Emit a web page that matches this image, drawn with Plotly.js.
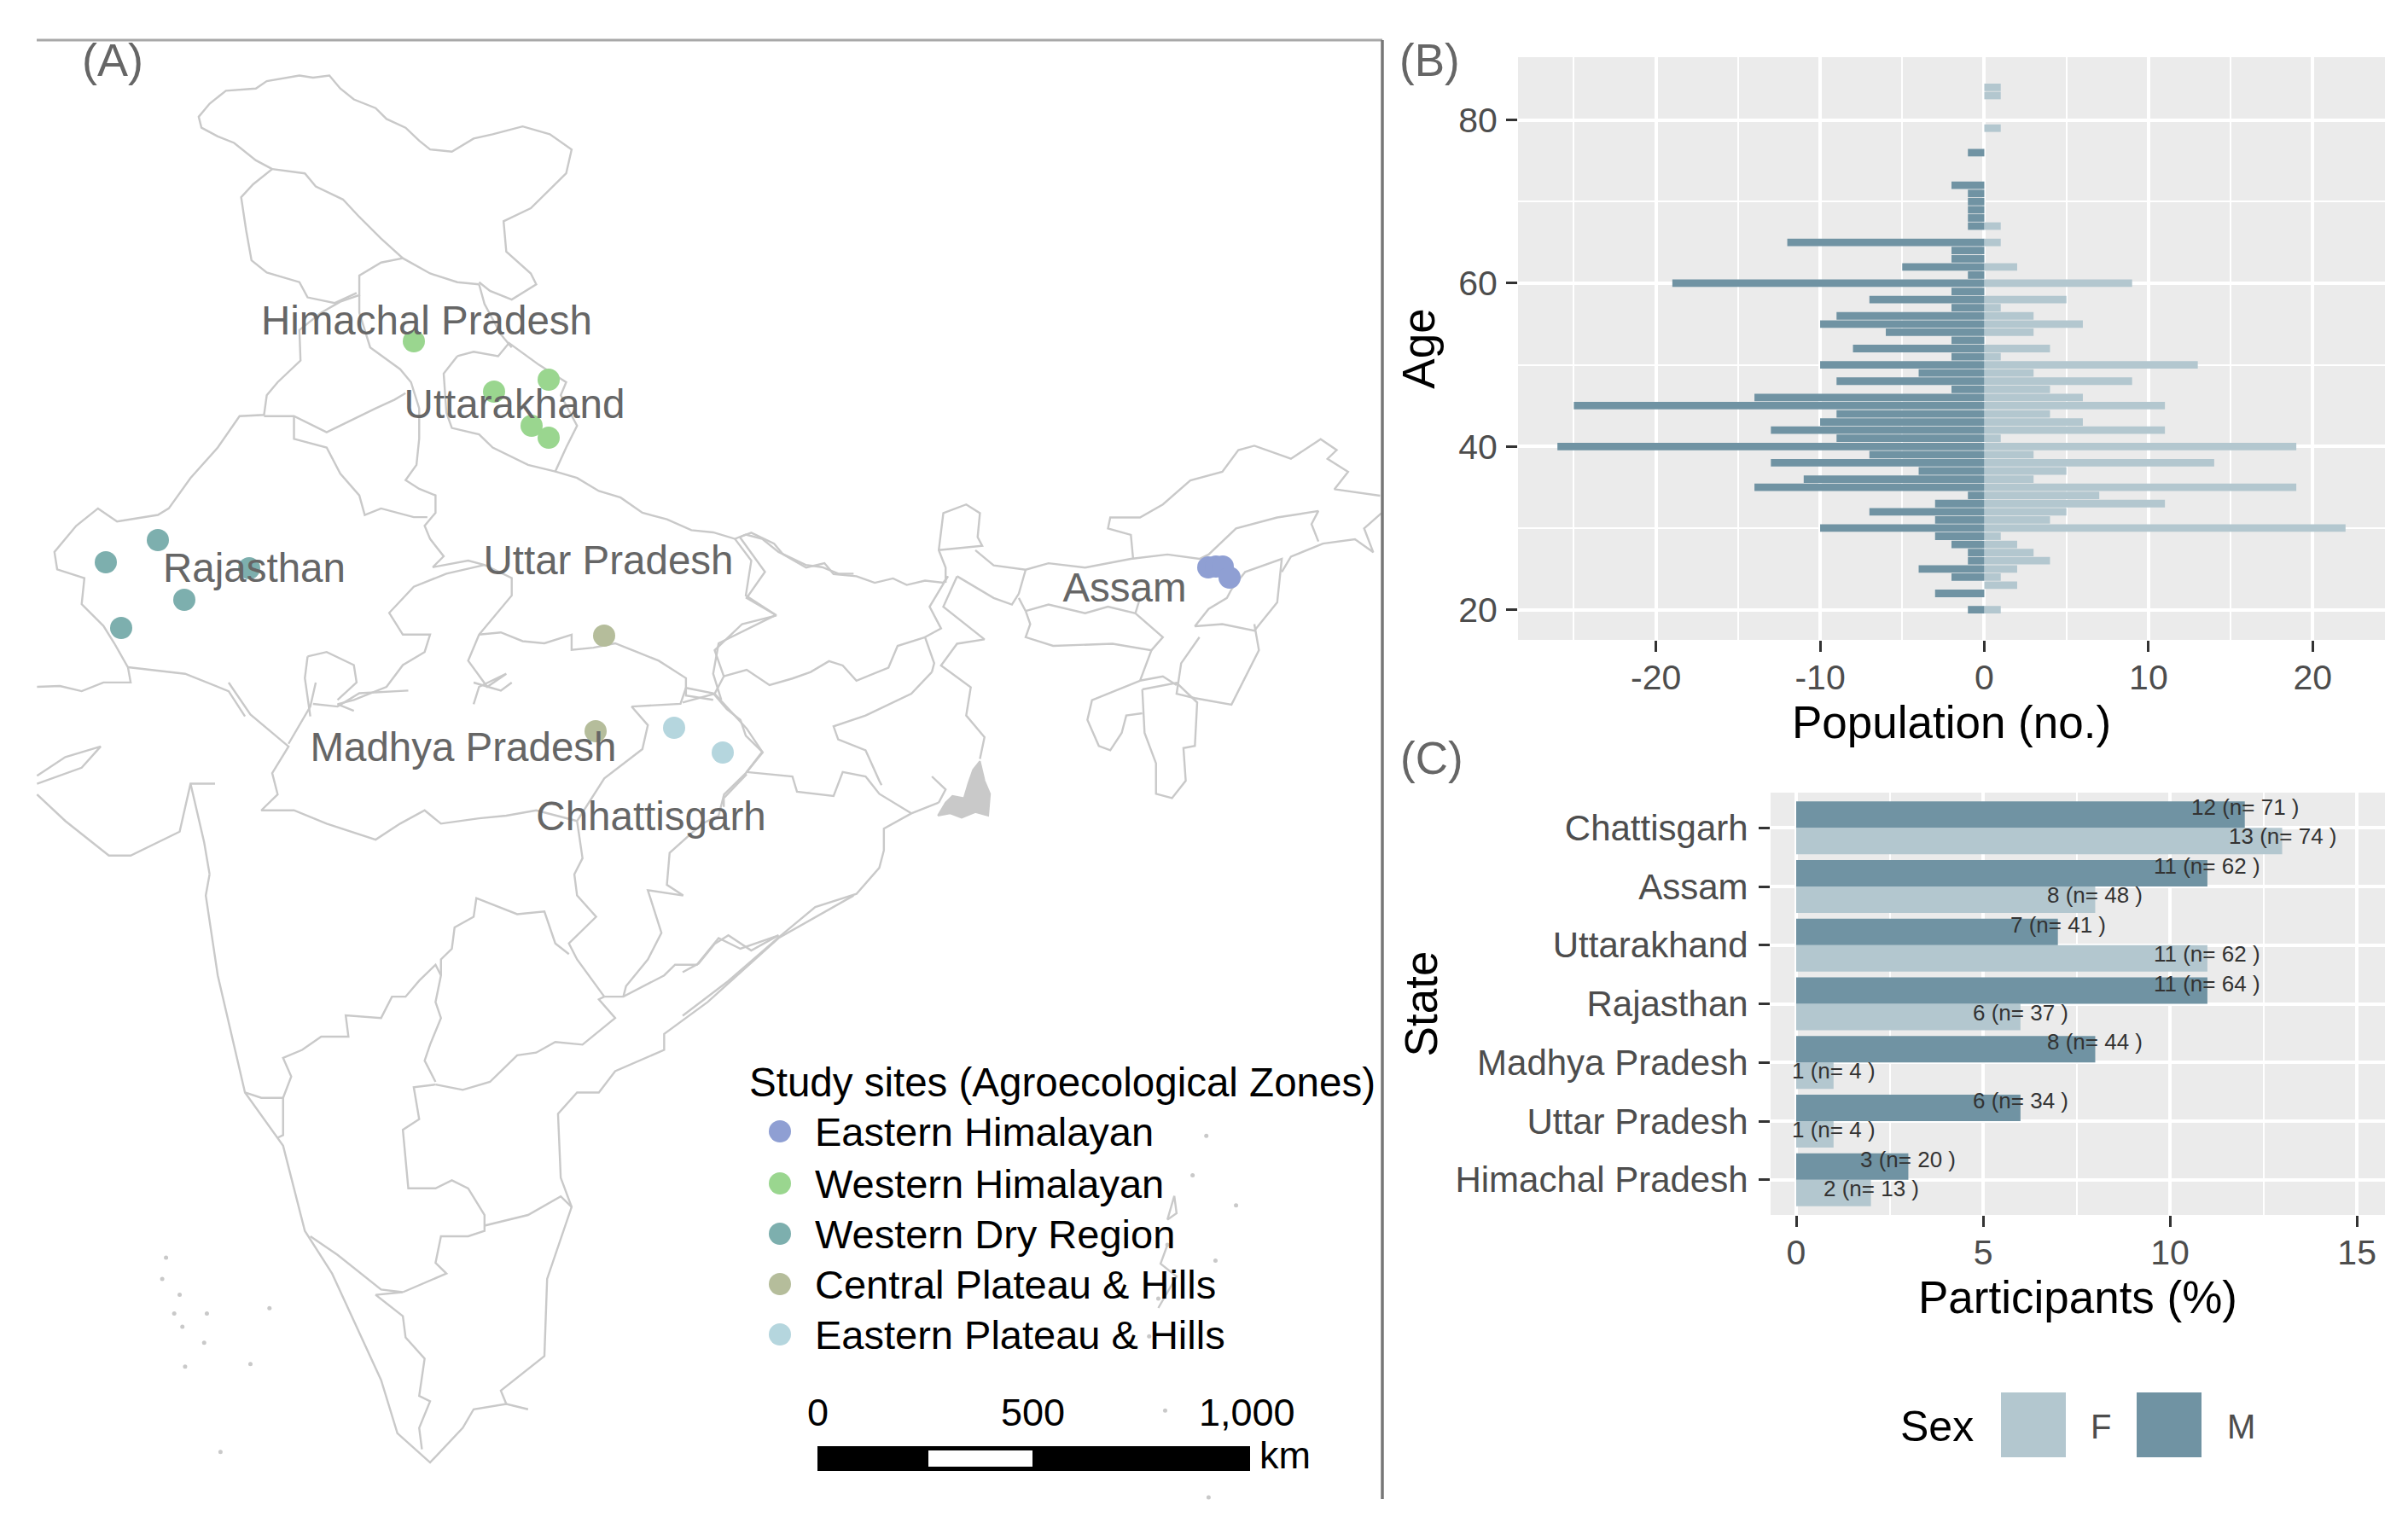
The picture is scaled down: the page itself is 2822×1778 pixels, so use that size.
<!DOCTYPE html>
<html>
<head>
<meta charset="utf-8">
<script src="https://cdn.plot.ly/plotly-3.0.1.min.js"></script>
<style>body{margin:0;background:#fff}</style>
</head>
<body>
<div id="myChart" style="width:2822px;height:1778px"></div>
<script>
// (B) age pyramid
const ages = [84,83,79,76,72,71,70,69,68,67,65,64,63,62,61,60,59,58,57,56,55,54,53,52,51,50,49,48,47,46,45,44,43,42,41,40,39,38,37,36,35,34,33,32,31,30,29,28,27,26,25,24,23,22,20];
const males = [0,0,0,1,2,1,1,1,1,1,12,2,2,5,1,19,2,7,2,9,10,6,2,8,2,10,4,9,2,14,25,9,10,13,9,26,7,13,4,11,14,1,3,7,3,10,3,2,1,1,4,2,0,3,1];
const females = [1,1,1,0,0,0,0,0,0,1,1,0,0,2,0,9,0,5,1,3,6,3,0,4,1,13,3,9,4,6,11,4,6,11,1,19,3,14,5,3,19,7,11,5,4,22,1,2,3,4,2,1,2,0,1];
const popTicks = [-20,-10,0,10,20];
const popTickLabels = ["-20","-10","0","10","20"];
const popMinorTicks = [-25,-15,-5,5,15];

// (C) participants by state, bottom to top
const states = ["Himachal Pradesh","Uttar Pradesh","Madhya Pradesh","Rajasthan","Uttarakhand","Assam","Chattisgarh"];
const pctM = [3,6,8,11,7,11,12];
const pctF = [2,1,1,6,11,8,13];
const countM = [20,34,44,64,41,62,71];
const countF = [13,4,4,37,62,48,74];

// (A) study sites, in reference pixels
const zones = ["Eastern Himalayan","Western Himalayan","Western Dry Region","Central Plateau & Hills","Eastern Plateau & Hills"];
const zoneColors = ["#8f9fd3","#9ad68f","#7dafae","#b5bd9b","#b5d6de"];
const siteX = [[1416,1425,1433,1441],[485,579,643,623,643],[185,124,292,216,142],[708,698],[790,847]];
const siteY = [[665,664,664,677],[400,459,445,499,513],[633,659,666,703,736],[745,857],[853,882]];
const legendRowY = [1326,1387,1446,1505,1564];
const stateLabels = ["Himachal Pradesh","Uttarakhand","Rajasthan","Uttar Pradesh","Assam","Madhya Pradesh","Chhattisgarh"];
const stateLabelX = [500,603,298,713,1318,543,763];
const stateLabelY = [380,478,670,661,693,880,961];

const north = (pts) => pts.map(([x, y]) => [x * 0.638, 40 + y * 0.51]);
const east = (pts) => pts.map(([x, y]) => [800 + x * 0.536, 400 + y * 0.51]);
const south = (pts) => pts.map(([x, y]) => [x * 0.638, 800 + y * 0.624]);
const sea = (pts) => pts.map(([x, y]) => [800 + x * 0.536, 1200 + y * 0.37]);

const northLines = [
  [[500,310],[470,290],[430,250],[400,235],[370,215],[365,190],[385,160],[415,130],[470,125],[490,108],[550,95],[575,100],[605,95],[625,125],[650,150],[690,170],[710,195],[745,215],[770,245],[790,265],[830,270],[870,240],[905,230],[960,212],[1010,230],[1050,265],[1040,320],[1000,370],[975,400],[925,430],[930,500],[975,550],[985,575],[940,610],[900,590],[880,570]],
  [[500,310],[560,320],[580,350],[630,380],[660,420],[700,470],[740,515],[790,550],[840,570],[880,575]],
  [[500,310],[465,345],[443,375],[452,450],[462,520],[490,548],[550,570],[565,605],[615,618],[655,595]],
  [[740,515],[700,525],[660,555],[660,600],[625,615]],
  [[625,615],[590,640],[550,680],[552,750],[510,800],[490,830],[485,875],[440,878],[400,950],[350,1020],[310,1090],[290,1105],[215,1120],[180,1090],[140,1130],[100,1190],[105,1230],[155,1250],[150,1310],[190,1360],[210,1400],[235,1455],[240,1490],[190,1490],[150,1510],[110,1498],[68,1500]],
  [[485,878],[540,878],[600,915],[640,890],[690,860],[725,840],[745,825]],
  [[660,600],[660,640],[680,720],[735,770],[755,800],[770,860],[770,930],[765,990],[745,1025],[770,1045],[800,1060],[800,1100],[780,1130],[790,1160],[815,1200],[795,1225],[860,1210],[890,1220]],
  [[540,878],[540,930],[600,950],[625,1010],[660,1060],[670,1105],[700,1090],[760,1110],[785,1110]],
  [[880,575],[890,620],[920,690],[940,720]],
  [[840,740],[870,730],[915,740],[935,710],[990,760],[1040,800],[1030,830],[1060,900],[1040,950],[1020,1005],[970,990],[905,950],[880,920],[830,905],[820,870],[815,780],[840,740]],
  [[1020,1005],[1060,1020],[1100,1050],[1140,1065],[1180,1100],[1225,1115],[1270,1140],[1310,1145],[1350,1160],[1370,1150],[1400,1160],[1430,1190],[1480,1220],[1510,1225],[1540,1240],[1568,1240]],
  [[1350,1160],[1380,1210],[1370,1290],[1425,1335],[1320,1400],[1310,1470],[1325,1530]],
  [[890,1220],[820,1240],[760,1270],[715,1330],[740,1380],[790,1380],[780,1420],[740,1450],[710,1500],[650,1530],[620,1540],[650,1555]],
  [[890,1220],[940,1250],[940,1290],[880,1380],[860,1440],[895,1500],[930,1470],[880,1500],[870,1540]],
  [[880,1380],[920,1375],[960,1395],[1000,1400],[1050,1380],[1050,1415],[1090,1410],[1130,1400],[1170,1420],[1210,1440],[1260,1480],[1260,1520],[1310,1530]],
  [[565,1430],[600,1420],[650,1450],[655,1490],[620,1530]],
  [[565,1430],[560,1480],[570,1568]],
  [[235,1455],[340,1470],[420,1510],[450,1568]],
];

const southLines = [
  [[420,0],[460,60],[530,120],[500,170],[510,210],[480,240],[540,240],[600,265],[690,295],[735,265],[780,240],[810,265],[880,255],[930,250],[985,240],[1060,260]],
  [[530,115],[570,45],[580,0]],
  [[575,40],[620,45],[660,20],[750,15]],
  [[870,0],[920,15],[940,0]],
  [[1160,45],[1250,40],[1260,10],[1310,20],[1335,50],[1360,70],[1370,100],[1400,130],[1370,170],[1330,210],[1320,250],[1290,265],[1230,320],[1225,380],[1255,400],[1190,390],[1215,470],[1190,520],[1150,570],[1145,590]],
  [[1160,45],[1190,80],[1180,125],[1110,180],[1060,260],[1070,330],[1055,360],[1060,400],[1095,440],[1045,490],[1060,520],[1110,590]],
  [[68,210],[120,260],[200,325],[240,325],[330,280],[350,190],[395,190]],
  [[350,190],[375,300],[385,360]],
  [[68,175],[120,140],[185,120],[150,160],[68,190]],
  [[385,360],[378,400],[400,550],[430,680],[450,770],[520,870],[560,1030],[610,1110],[700,1310],[730,1410],[790,1465],[850,1400],[870,1365],[930,1355],[970,1365]],
  [[930,1355],[920,1330],[1000,1265],[1005,1120],[1050,985],[1030,930],[1025,810],[1060,770],[1100,770],[1130,730],[1220,690],[1220,660],[1300,600],[1430,480],[1568,400]],
  [[450,770],[480,780],[520,780],[520,850],[510,855]],
  [[520,780],[535,740],[520,705],[555,690],[590,665],[640,665],[635,625],[700,630],[720,590],[745,590],[770,560],[800,530],[810,550],[800,600],[810,630],[790,680],[780,710],[800,750]],
  [[800,755],[850,765],[900,750],[950,700],[985,695],[1020,675],[1070,680],[1130,630],[1100,595],[1110,590]],
  [[810,550],[810,520],[830,500],[835,460],[870,440],[875,405],[950,435],[1000,430],[1020,490],[1045,510]],
  [[800,755],[760,760],[770,820],[740,840],[750,950],[800,950],[830,935],[860,950],[890,1000],[890,1030],[860,1040],[810,1040],[800,1090],[820,1110],[740,1145]],
  [[890,1020],[970,1000],[1030,965],[1050,985]],
  [[570,1040],[620,1075],[700,1140],[740,1145],[690,1150],[740,1190],[745,1230],[780,1270],[770,1340],[790,1350],[770,1400],[775,1440]],
  [[1110,590],[1145,590],[1220,550],[1240,530],[1280,530],[1320,480],[1360,500],[1430,475]],
];

const eastLines = [
  [[125,450],[150,440],[200,465],[220,490],[270,520],[310,510],[330,535],[380,540],[420,555],[460,545],[490,560],[530,550],[570,555],[580,540]],
  [[125,450],[180,530],[140,590],[205,630],[130,650],[70,710],[90,770],[70,810]],
  [[90,770],[140,755],[190,790],[240,775],[280,760],[320,735],[350,745],[380,780],[450,750],[470,700],[530,680]],
  [[580,540],[540,610],[565,660],[530,680],[550,740],[545,760]],
  [[600,540],[570,610],[660,685],[600,695],[565,745],[630,795],[620,860],[660,910],[650,960]],
  [[575,555],[575,520],[560,480],[570,395],[620,375],[650,395],[645,450],[655,470],[560,480]],
  [[640,480],[680,515],[750,525],[800,510],[880,520],[980,500],[1060,490],[1130,500],[1150,490],[1210,430],[1300,405],[1390,390],[1375,420],[1390,460]],
  [[600,540],[680,590],[720,605],[735,580],[750,525]],
  [[735,590],[750,620]],
  [[985,500],[980,445],[930,430],[935,405],[1000,405],[1050,375],[1110,320],[1180,300],[1215,250],[1250,240],[1330,270],[1395,225],[1430,250],[1410,270],[1455,300],[1425,340],[1525,355]],
  [[1528,395],[1490,430],[1510,485],[1470,455],[1400,465],[1330,495],[1310,530]],
  [[1200,570],[1230,530],[1310,500],[1300,600],[1250,665],[1180,650],[1120,655],[1150,615],[1190,590],[1200,570]],
  [[1250,650],[1260,710],[1200,835],[1120,820],[1080,810],[1090,740],[1130,680]],
  [[1005,800],[1080,785],[1125,830],[1120,930],[1095,935],[1100,1010],[1070,1050],[1035,1040],[1035,970],[1010,900],[1005,800]],
  [[1000,780],[940,805],[895,825],[885,870],[910,930],[935,940],[960,900],[970,860],[1005,855]],
  [[750,620],[800,605],[880,625],[930,610],[990,625],[1050,680],[1025,710],[940,695],[810,700],[750,680],[760,650],[750,620]],
  [[990,625],[1000,590]],
  [[1025,710],[1000,780],[1050,770],[1080,790]],
  [[545,760],[500,810],[400,860],[330,885],[340,915],[400,940],[430,1010],[435,1020]],
  [[0,830],[70,810],[140,890],[175,945],[140,990],[240,1000],[250,1035],[330,1045],[350,990],[400,1000],[430,1040],[500,1085]],
  [[140,995],[90,1050],[90,1070]],
  [[560,1060],[500,1085],[440,1120],[440,1170],[430,1210],[380,1270],[290,1300],[210,1370],[100,1470],[0,1550]],
  [[210,1365],[150,1400],[100,1365],[70,1385],[35,1430],[0,1450]],
  [[545,1000],[575,1030],[560,1060]],
];

const deltaOutline = [[558,1090],[575,1060],[590,1045],[615,1050],[625,1015],[635,985],[650,965],[660,1010],[672,1040],[668,1090],[640,1082],[610,1095],[585,1085],[558,1090]];
const lakshadweep = [[305,1080],[298,1120],[330,1150],[320,1185],[380,1185],[335,1210],[375,1240],[340,1285],[460,1280],[495,1175],[405,1445]];
const andaman = [[1145,355],[1115,480],[1210,575],[1060,700],[1165,750],[1040,870],[1020,990],[1055,1225],[1120,1390],[1150,1500]];
const andamanLines = [[[1075,545],[1060,620],[1080,600],[1075,545]],[[1060,700],[1045,760],[1080,800],[1040,900]]];

const TEXT = "Liberation Sans, Arial, sans-serif";
const GREY_TEXT = "#4d4d4d";
const M_COLOR = "#7093a3";
const F_COLOR = "#b3c7cf";
const BORDER = "#c9c9c9";

const joinLines = (lines) => {
  var x = [], y = [];
  lines.forEach((line) => {
    line.forEach((p) => { x.push(p[0]); y.push(p[1]); });
    x.push(null); y.push(null);
  });
  return { x, y };
};

const allBorders = joinLines([
  ...northLines.map(north),
  ...southLines.map(south),
  ...eastLines.map(east),
  ...andamanLines.map(sea),
]);
const delta = joinLines([east(deltaOutline)]);
const islands = joinLines([...south(lakshadweep).map((p) => [p]), ...sea(andaman).map((p) => [p])]);

var data = [];

data.push({
  x: allBorders.x, y: allBorders.y, mode: "lines", type: "scatter", showlegend: false, hoverinfo: "skip",
  line: { color: BORDER, width: 2.4 },
});
data.push({
  x: delta.x, y: delta.y, mode: "lines", type: "scatter", fill: "toself", fillcolor: BORDER, showlegend: false, hoverinfo: "skip",
  line: { color: BORDER, width: 2 },
});
data.push({
  x: islands.x, y: islands.y, mode: "markers", type: "scatter", showlegend: false, hoverinfo: "skip",
  marker: { color: BORDER, size: 5 },
});

zones.forEach((zone, i) => {
  data.push({
    x: siteX[i], y: siteY[i], mode: "markers", type: "scatter", name: zone, showlegend: false,
    marker: { color: zoneColors[i], size: 26 },
  });
});

// zone key: plotly caps legend markers well below this size, so it is drawn on the map axes
data.push({
  x: legendRowY.map(() => 914), y: legendRowY, mode: "markers", type: "scatter", showlegend: false, hoverinfo: "skip",
  marker: { color: zoneColors, size: 26 },
});

data.push({
  x: stateLabelX, y: stateLabelY, text: stateLabels, mode: "text", type: "scatter", showlegend: false, hoverinfo: "skip",
  textposition: "middle center", textfont: { family: TEXT, size: 47.5, color: "#666666" },
});

data.push({
  x: females, y: ages, xaxis: "x2", yaxis: "y2", type: "bar", orientation: "h", name: "F", showlegend: false,
  width: 0.92, offset: -0.46, marker: { color: F_COLOR },
});
data.push({
  x: males.map((v) => -v), y: ages, xaxis: "x2", yaxis: "y2", type: "bar", orientation: "h", name: "M", showlegend: false,
  width: 0.92, offset: -0.46, marker: { color: M_COLOR },
});

data.push({
  x: pctF, y: states, xaxis: "x3", yaxis: "y3", type: "bar", orientation: "h", name: "F", showlegend: false,
  width: 0.45, offset: -0.45, marker: { color: F_COLOR },
});
data.push({
  x: pctM, y: states, xaxis: "x3", yaxis: "y3", type: "bar", orientation: "h", name: "M", showlegend: false,
  width: 0.45, offset: 0, marker: { color: M_COLOR },
});

// n= labels sit a little off the middle of each bar
const barLabels = [];
states.forEach((state, i) => {
  barLabels.push({ x: pctM[i], y: state, xref: "x3", yref: "y3", yshift: 24, text: pctM[i] + " (n= " + countM[i] + " )", showarrow: false, font: { family: TEXT, size: 26, color: "#333333" } });
  barLabels.push({ x: pctF[i], y: state, xref: "x3", yref: "y3", yshift: -10, text: pctF[i] + " (n= " + countF[i] + " )", showarrow: false, font: { family: TEXT, size: 26, color: "#333333" } });
});

const pxLabel = (text, x, y, size, color, anchor) => ({
  text, x, y, xref: "x", yref: "y", showarrow: false, xanchor: anchor || "center", yanchor: "middle",
  font: { family: TEXT, size, color },
});

const axisBase = {
  showgrid: true, gridcolor: "#ffffff", gridwidth: 3.5, zeroline: false, showline: false,
  ticks: "outside", ticklen: 13, tickwidth: 3, tickcolor: "#333333",
  tickfont: { family: TEXT, size: 41, color: GREY_TEXT },
};
const minorGrid = (dtick) => ({ dtick, showgrid: true, gridcolor: "#ffffff", gridwidth: 1.6, ticks: "" });
const axisTitle = (text, standoff) => ({ text, standoff, font: { family: TEXT, size: 53, color: "#000000" } });
const panelBg = (n) => ({ type: "rect", xref: "x" + n + " domain", yref: "y" + n + " domain", x0: 0, x1: 1, y0: 0, y1: 1, layer: "below", line: { width: 0 }, fillcolor: "#ebebeb" });
const pxRect = (x0, x1, y0, y1, fill) => ({ type: "rect", xref: "x", yref: "y", x0, x1, y0, y1, line: { width: 0 }, fillcolor: fill });
const pxLine = (x0, y0, x1, y1, color, width) => ({ type: "line", xref: "x", yref: "y", x0, y0, x1, y1, line: { color, width } });

var layout = {
  width: 2822,
  height: 1778,
  margin: { l: 0, r: 0, t: 0, b: 0 },
  paper_bgcolor: "#ffffff",
  plot_bgcolor: "rgba(0,0,0,0)",
  barmode: "overlay",
  showlegend: false,
  font: { family: TEXT },
  xaxis: { domain: [0, 1], range: [0, 2822], visible: false, fixedrange: true },
  yaxis: { domain: [0, 1], range: [1778, 0], visible: false, fixedrange: true },
  xaxis2: {
    ...axisBase, anchor: "y2", domain: [1779 / 2822, 2795 / 2822], range: [-28.4, 24.4],
    tickmode: "array", tickvals: popTicks, ticktext: popTickLabels, ticklabelstandoff: -5,
    minor: { tickmode: "array", tickvals: popMinorTicks, showgrid: true, gridcolor: "#ffffff", gridwidth: 1.6, ticks: "" },
    title: axisTitle("Population (no.)", 10),
  },
  yaxis2: {
    ...axisBase, anchor: "x2", domain: [1 - 750 / 1778, 1 - 67 / 1778], range: [16.3, 87.7],
    tick0: 20, dtick: 20, ticklabelstandoff: 2, minor: minorGrid(10),
    title: axisTitle("Age", 10),
  },
  xaxis3: {
    ...axisBase, anchor: "y3", domain: [2075 / 2822, 2795 / 2822], range: [-0.685, 15.75],
    tick0: 0, dtick: 5, ticklabelstandoff: -5, minor: minorGrid(2.5),
    title: axisTitle("Participants (%)", 10),
  },
  yaxis3: {
    ...axisBase, anchor: "x3", domain: [1 - 1424 / 1778, 1 - 929 / 1778], type: "category",
    categoryorder: "array", categoryarray: states, range: [-0.6, 6.6],
    tickfont: { family: TEXT, size: 42, color: GREY_TEXT }, ticklabelstandoff: 4,
    title: axisTitle("State", 3),
  },
  shapes: [
    panelBg(2),
    panelBg(3),
    pxLine(43, 47, 1620, 47, "#a8a8a8", 3),
    pxLine(1620, 47, 1620, 1757, "#777777", 3.5),
    // scale bar
    pxRect(958, 1465, 1695, 1724, "#000000"),
    pxRect(1088, 1210, 1700, 1719, "#ffffff"),
    // Sex legend swatches
    pxRect(2345, 2421, 1632, 1708, F_COLOR),
    pxRect(2504, 2580, 1632, 1708, M_COLOR),
  ],
  annotations: [
    ...barLabels,
    pxLabel("(A)", 132, 70, 54, "#666666"),
    pxLabel("(B)", 1675, 70, 53, "#666666"),
    pxLabel("(C)", 1678, 888, 53, "#666666"),
    pxLabel("Study sites (Agroecological Zones)", 876, 1268, 47.5, "#000000", "left"),
    ...zones.map((zone, i) => pxLabel(zone, 953, legendRowY[i], 47, "#000000", "left")),
    pxLabel("0", 958, 1655, 45, "#000000"),
    pxLabel("500", 1210, 1655, 45, "#000000"),
    pxLabel("1,000", 1461, 1655, 45, "#000000"),
    pxLabel("km", 1474, 1705, 45, "#000000", "left"),
    pxLabel("Sex", 2270, 1672, 50, "#000000"),
    pxLabel("F", 2462, 1672, 40, GREY_TEXT),
    pxLabel("M", 2626, 1672, 40, GREY_TEXT),
  ],
};

Plotly.newPlot("myChart", data, layout, { displayModeBar: false });
</script>
</body>
</html>
